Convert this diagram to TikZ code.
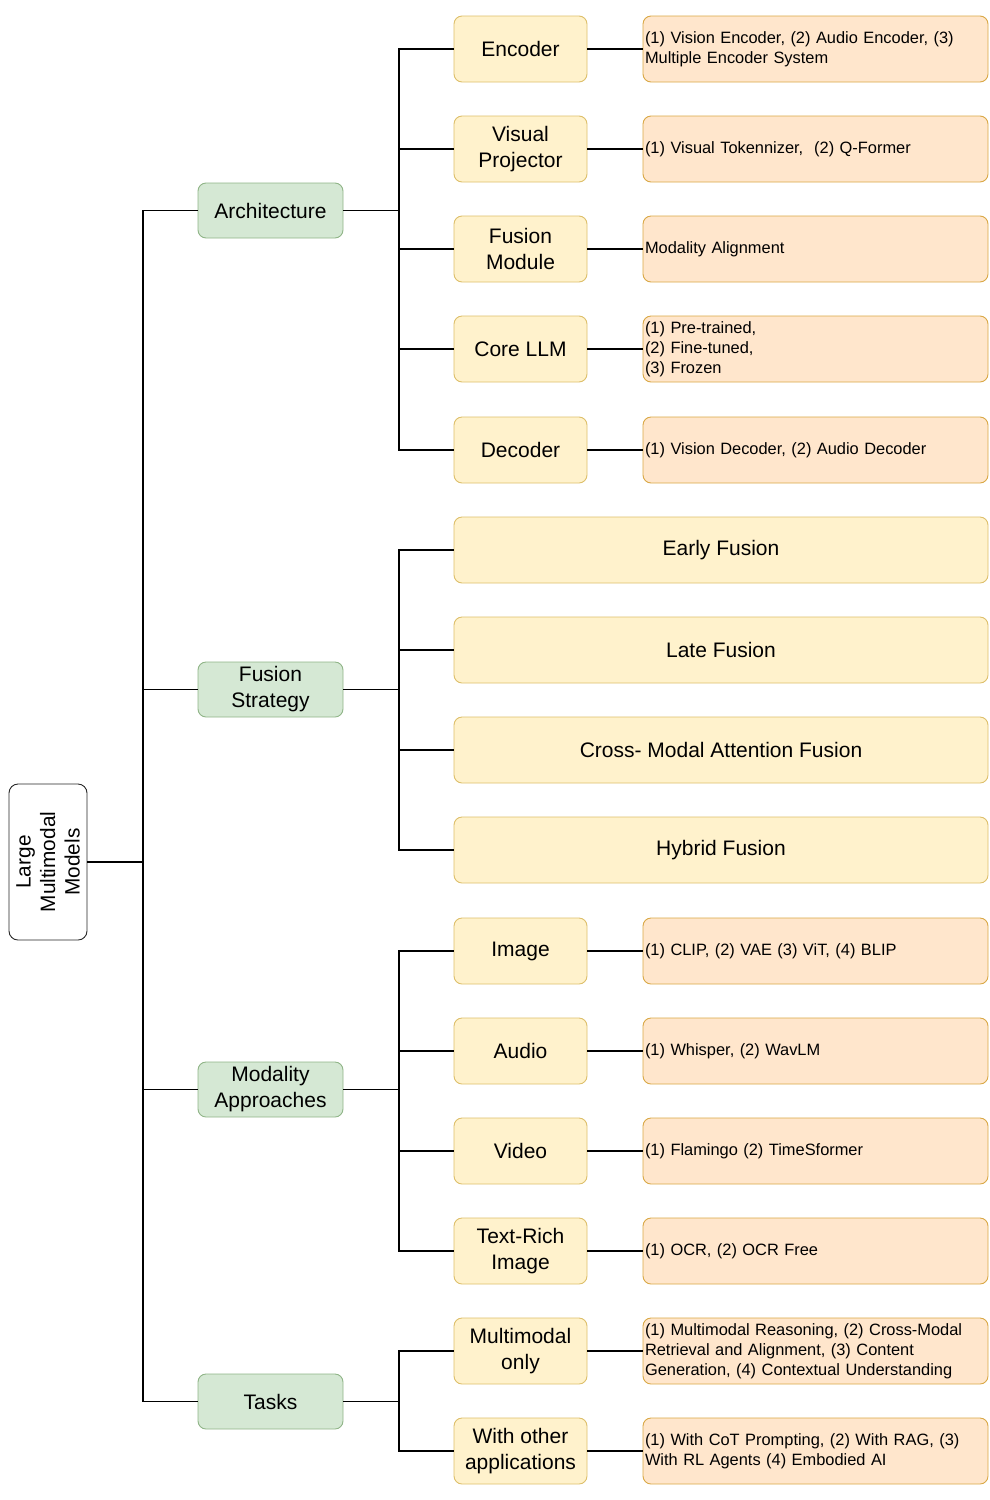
\documentclass[tikz,border=0pt]{standalone}
\usepackage{fontspec}
\setmainfont{Liberation Sans}
\begin{document}
\begin{tikzpicture}[x=1pt,y=-1pt,
  conn/.style={line width=1.4pt,draw=black},
  rootbox/.style={draw=black!85,line width=0.9pt,fill=white,rounded corners=9pt,rotate=90,minimum width=156pt,minimum height=78pt,inner sep=0pt,align=center,font=\fontsize{20.8}{24.5}\selectfont},
  greenbox/.style={draw=gborder,line width=0.9pt,fill=gfill,rounded corners=8pt,minimum width=145pt,minimum height=55pt,inner sep=0pt,align=center,font=\fontsize{21}{26}\selectfont},
  yellowbox/.style={draw=yborder,line width=0.9pt,fill=yfill,rounded corners=8pt,minimum width=133pt,minimum height=66pt,inner sep=0pt,align=center,font=\fontsize{21}{25.5}\selectfont},
  widebox/.style={yellowbox,minimum width=534pt},
  orangebox/.style={draw=oborder,line width=0.9pt,fill=ofill,rounded corners=8pt,minimum width=345pt,minimum height=66pt,inner xsep=2pt,inner ysep=0pt,text width=341pt,align=left,font=\fontsize{16.4}{20}\selectfont}
]
\definecolor{gfill}{HTML}{D5E8D4}
\definecolor{gborder}{HTML}{8FB487}
\definecolor{yfill}{HTML}{FFF2CC}
\definecolor{yborder}{HTML}{DDBF6A}
\definecolor{ofill}{HTML}{FFE6CC}
\definecolor{oborder}{HTML}{D9A845}
\useasboundingbox (0,0) rectangle (990,1500);

% root
\node[rootbox] (root) at (48,862) {Large\\Multimodal\\Models};

% level 1
\node[greenbox] (arch) at (270.5,210.5) {Architecture};
\node[greenbox] (fus) at (270.5,689.5) {Fusion\\Strategy};
\node[greenbox] (mod) at (270.5,1089.5) {Modality\\Approaches};
\node[greenbox] (task) at (270.5,1401.5) {Tasks};

% architecture children
\node[yellowbox] (enc) at (520.5,49) {Encoder};
\node[yellowbox] (vp) at (520.5,149) {Visual\\Projector};
\node[yellowbox] (fm) at (520.5,249) {Fusion\\Module};
\node[yellowbox] (llm) at (520.5,349) {Core LLM};
\node[yellowbox] (dec) at (520.5,450) {Decoder};

\node[orangebox] (encd) at (815.5,49) {(1) Vision Encoder, (2) Audio Encoder, (3)\\Multiple Encoder System};
\node[orangebox] (vpd) at (815.5,149) {(1) Visual Tokennizer,\ \ (2) Q-Former};
\node[orangebox] (fmd) at (815.5,249) {Modality Alignment};
\node[orangebox] (llmd) at (815.5,349) {(1) Pre-trained,\\(2) Fine-tuned,\\(3) Frozen};
\node[orangebox] (decd) at (815.5,450) {(1) Vision Decoder, (2) Audio Decoder};

% fusion children
\node[widebox] (ef) at (721,550) {Early Fusion};
\node[widebox] (lf) at (721,650) {Late Fusion};
\node[widebox] (cf) at (721,750) {Cross- Modal Attention Fusion};
\node[widebox] (hf) at (721,850) {Hybrid Fusion};

% modality children
\node[yellowbox] (img) at (520.5,951) {Image};
\node[yellowbox] (aud) at (520.5,1051) {Audio};
\node[yellowbox] (vid) at (520.5,1151) {Video};
\node[yellowbox] (tri) at (520.5,1251) {Text-Rich\\Image};

\node[orangebox] (imgd) at (815.5,951) {(1) CLIP, (2) VAE (3) ViT, (4) BLIP};
\node[orangebox] (audd) at (815.5,1051) {(1) Whisper, (2) WavLM};
\node[orangebox] (vidd) at (815.5,1151) {(1) Flamingo (2) TimeSformer};
\node[orangebox] (trid) at (815.5,1251) {(1) OCR, (2) OCR Free};

% tasks children
\node[yellowbox] (mmo) at (520.5,1351) {Multimodal\\only};
\node[yellowbox] (woa) at (520.5,1451) {With other\\applications};

\node[orangebox] (mmod) at (815.5,1351) {(1) Multimodal Reasoning, (2) Cross-Modal\\Retrieval and Alignment, (3) Content\\Generation, (4) Contextual Understanding};
\node[orangebox] (woad) at (815.5,1451) {(1) With CoT Prompting, (2) With RAG, (3)\\With RL Agents (4) Embodied AI};

% junctions
\coordinate (jr) at (143,862);
\coordinate (ja) at (399,210.5);
\coordinate (jf) at (399,689.5);
\coordinate (jm) at (399,1089.5);
\coordinate (jt) at (399,1401.5);

% level 1 connectors
\draw[conn] (root.south) -- (jr);
\foreach \n in {arch,fus,mod,task} \draw[conn] (jr) |- (\n.west);

% level 2 connectors
\draw[conn] (arch.east) -- (ja);
\foreach \n in {enc,vp,fm,llm,dec} \draw[conn] (ja) |- (\n.west);
\draw[conn] (fus.east) -- (jf);
\foreach \n in {ef,lf,cf,hf} \draw[conn] (jf) |- (\n.west);
\draw[conn] (mod.east) -- (jm);
\foreach \n in {img,aud,vid,tri} \draw[conn] (jm) |- (\n.west);
\draw[conn] (task.east) -- (jt);
\foreach \n in {mmo,woa} \draw[conn] (jt) |- (\n.west);

% level 3 connectors
\foreach \a/\b in {enc/encd,vp/vpd,fm/fmd,llm/llmd,dec/decd,img/imgd,aud/audd,vid/vidd,tri/trid,mmo/mmod,woa/woad}
  \draw[conn,line width=1.1pt] (\a.east) -- (\b.west);
\end{tikzpicture}
\end{document}
